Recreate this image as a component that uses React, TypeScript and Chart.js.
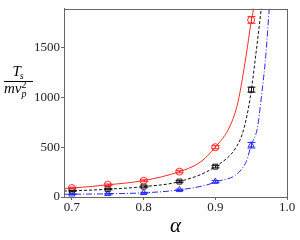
import React, { useEffect, useRef } from "react";
import { Chart, registerables } from "chart.js";

Chart.register(...registerables);

// Measured points (alpha, T_s / m v_p^2) with error bars
const alphaPoints = [0.7, 0.75, 0.8, 0.85, 0.9, 0.95];
const redValues = [90, 123, 163, 255, 500, 1778];
const redErrors = [8, 8, 10, 12, 15, 34];
const blackValues = [62, 78, 105, 155, 305, 1078];
const blackErrors = [5, 6, 7, 9, 12, 25];
const blueValues = [28, 32, 42, 72, 155, 520];
const blueErrors = [4, 4, 5, 7, 11, 28];

// Fit curves
const redCurveAlpha = [0.689, 0.7, 0.75, 0.8, 0.85, 0.879, 0.9, 0.921, 0.9315, 0.943, 0.95, 0.9533, 0.956];
const redCurveValues = [86, 90, 122, 165, 255, 350, 500, 720, 950, 1420, 1760, 1890, 2050];
const blackCurveAlpha = [0.689, 0.7, 0.75, 0.8, 0.85, 0.9, 0.93, 0.9393, 0.9487, 0.9566, 0.964, 0.967];
const blackCurveValues = [60, 62, 78, 104, 155, 305, 510, 672, 997, 1435, 1890, 2100];
const blueCurveAlpha = [0.689, 0.7, 0.75, 0.8, 0.85, 0.9, 0.9427, 0.95, 0.9589, 0.9638, 0.9706, 0.9752, 0.978];
const blueCurveValues = [27, 28, 32, 42, 72, 150, 347, 520, 700, 975, 1435, 1890, 2150];

const xTicks = [0.7, 0.8, 0.9, 1.0];
const xTickLabels = ["0.7", "0.8", "0.9", "1.0"];
const yTicks = [0, 500, 1000, 1500];
const yTickLabels = ["0", "500", "1000", "1500"];

const X_MIN = 0.689;
const X_MAX = 1.0;
const Y_MIN = 0;
const Y_MAX = 1890;

const SERIF = '"Liberation Serif", "DejaVu Serif", serif';

function pts(xs: number[], ys: number[]) {
  return xs.map((x, i) => ({ x, y: ys[i] }));
}

const errorBarPlugin = {
  id: "errorBars",
  afterDatasetsDraw(chart: any) {
    const ctx = chart.ctx;
    const xs = chart.scales.x;
    const ys = chart.scales.y;
    const sets = [
      { v: redValues, e: redErrors, c: "#ff2a2a" },
      { v: blackValues, e: blackErrors, c: "#111" },
      { v: blueValues, e: blueErrors, c: "#2a2aff" },
    ];
    ctx.save();
    const ca = chart.chartArea;
    ctx.beginPath();
    ctx.rect(ca.left, ca.top, ca.right - ca.left, ca.bottom - ca.top);
    ctx.clip();
    ctx.lineWidth = 1;
    for (const s of sets) {
      ctx.strokeStyle = s.c;
      s.v.forEach((v, i) => {
        const px = Math.round(xs.getPixelForValue(alphaPoints[i])) + 0.5;
        const y1 = ys.getPixelForValue(v - s.e[i]);
        const y2 = ys.getPixelForValue(v + s.e[i]);
        ctx.beginPath();
        ctx.moveTo(px, y1);
        ctx.lineTo(px, y2);
        ctx.moveTo(px - 4, y1);
        ctx.lineTo(px + 4, y1);
        ctx.moveTo(px - 4, y2);
        ctx.lineTo(px + 4, y2);
        ctx.stroke();
      });
    }
    ctx.restore();
  },
};

const framePlugin = {
  id: "frameAndTitles",
  afterDraw(chart: any) {
    const ctx = chart.ctx;
    const ca = chart.chartArea;
    ctx.save();
    ctx.strokeStyle = "#666";
    ctx.lineWidth = 1;
    ctx.strokeRect(Math.round(ca.left) + 0.5, Math.round(ca.top) + 0.5, Math.round(ca.right - ca.left), Math.round(ca.bottom - ca.top));

    // y-axis title: fraction T_s / (m v_p^2)
    ctx.fillStyle = "#000";
    ctx.textBaseline = "alphabetic";
    ctx.textAlign = "left";
    const big = "italic 15px " + SERIF;
    const small = "italic 10px " + SERIF;
    const smallUp = "10px " + SERIF;
    const lineY = 81;
    const x0 = 4;
    const x1 = 33;
    ctx.font = big;
    const wT = ctx.measureText("T").width;
    ctx.font = small;
    const ws = ctx.measureText("s").width;
    const numW = wT + ws;
    const nx = (x0 + x1) / 2 - numW / 2;
    ctx.font = big;
    ctx.fillText("T", nx, 76);
    ctx.font = small;
    ctx.fillText("s", nx + wT - 1, 79);
    ctx.beginPath();
    ctx.moveTo(x0, lineY + 0.5);
    ctx.lineTo(x1, lineY + 0.5);
    ctx.strokeStyle = "#000";
    ctx.stroke();
    ctx.font = big;
    const wmv = ctx.measureText("mv").width;
    ctx.fillText("mv", x0, 93);
    ctx.font = smallUp;
    ctx.fillText("2", x0 + wmv, 88);
    ctx.font = small;
    ctx.fillText("p", x0 + wmv, 97);

    ctx.font = "italic 21px " + SERIF;
    ctx.textAlign = "center";
    ctx.fillText("\u03b1", (ca.left + ca.right) / 2, 232);
    ctx.restore();
  },
};

export default function App() {
  const ref = useRef<HTMLCanvasElement | null>(null);
  useEffect(() => {
    if (!ref.current) return;
    const lineDs = (data: any, color: string, dash: number[]) => ({
      type: "scatter" as const,
      data,
      showLine: true,
      borderColor: color,
      borderWidth: 1,
      borderDash: dash,
      pointRadius: 0,
      fill: false,
      cubicInterpolationMode: "monotone",
    });
    const markDs = (data: any, color: string, style: string, r: number) => ({
      type: "scatter" as const,
      data,
      showLine: false,
      borderColor: color,
      backgroundColor: "rgba(0,0,0,0)",
      borderWidth: 1,
      pointStyle: style,
      pointRadius: r,
    });
    const chart = new Chart(ref.current, {
      type: "scatter",
      data: {
        datasets: [
          lineDs(pts(redCurveAlpha, redCurveValues), "#ff2a2a", []),
          lineDs(pts(blackCurveAlpha, blackCurveValues), "#111", [3, 2]),
          lineDs(pts(blueCurveAlpha, blueCurveValues), "#2a2aff", [6, 2, 1, 2]),
          markDs(pts(alphaPoints, redValues), "#ff2a2a", "circle", 3.5),
          markDs(pts(alphaPoints, blackValues), "#111", "rect", 3.5),
          markDs(pts(alphaPoints, blueValues), "#2a2aff", "triangle", 3.5),
        ] as any,
      },
      options: {
        animation: false,
        responsive: false,
        maintainAspectRatio: false,
        layout: { padding: { top: 4, right: 13, left: 0, bottom: 0 } },
        plugins: { legend: { display: false }, tooltip: { enabled: false } },
        scales: {
          x: {
            type: "linear",
            min: X_MIN,
            max: X_MAX,
            afterBuildTicks: (s: any) => {
              s.ticks = xTicks.map((v) => ({ value: v }));
            },
            afterFit: (s: any) => {
              s.height = 43;
            },
            ticks: {
              callback: (v: any) => {
                const i = xTicks.findIndex((t) => Math.abs(t - v) < 1e-9);
                return i >= 0 ? xTickLabels[i] : "";
              },
              font: { family: SERIF, size: 13 },
              color: "#222",
              padding: 0,
              maxRotation: 0,
              autoSkip: false,
            },
            grid: { drawOnChartArea: false, drawTicks: true, tickLength: 3, color: "#666" },
            border: { display: true, color: "#666" },
          },
          y: {
            type: "linear",
            min: Y_MIN,
            max: Y_MAX,
            afterBuildTicks: (s: any) => {
              s.ticks = yTicks.map((v) => ({ value: v }));
            },
            afterFit: (s: any) => {
              s.width = 64;
            },
            ticks: {
              callback: (v: any) => {
                const i = yTicks.findIndex((t) => Math.abs(t - v) < 1e-9);
                return i >= 0 ? yTickLabels[i] : "";
              },
              font: { family: SERIF, size: 13 },
              color: "#222",
              padding: 1,
              autoSkip: false,
            },
            grid: { drawOnChartArea: false, drawTicks: true, tickLength: 3, color: "#666" },
            border: { display: true, color: "#666" },
          },
        },
      },
      plugins: [errorBarPlugin, framePlugin],
    });
    return () => chart.destroy();
  }, []);
  return (
    <div style={{ position: "fixed", left: 0, top: 0, width: 300, height: 240, background: "#fff" }}>
      <canvas ref={ref} width={300} height={240} style={{ width: 300, height: 240, display: "block" }} />
    </div>
  );
}
